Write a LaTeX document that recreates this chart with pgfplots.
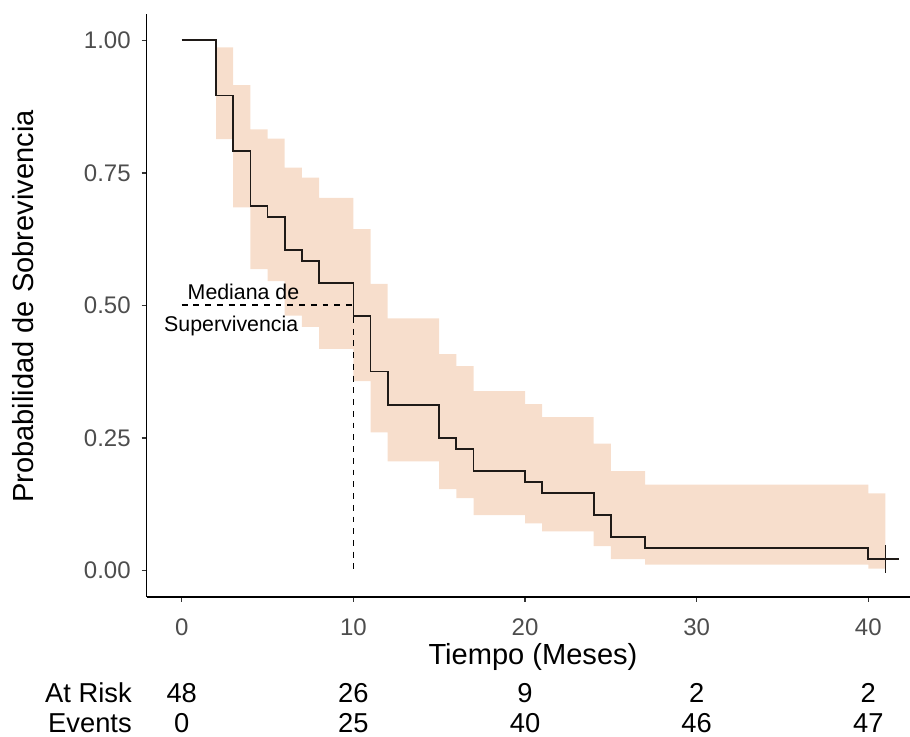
\documentclass[border=0pt]{standalone}
\usepackage{fontspec}
\setmainfont{Liberation Sans}
\usepackage{pgfplots}
\pgfplotsset{compat=1.18}

\definecolor{bandfill}{HTML}{F7DECC}
\definecolor{survline}{HTML}{1F1A17}
\definecolor{ticktext}{HTML}{4D4D4D}
\definecolor{tickmark}{HTML}{333333}

\newcommand{\tickfont}{\fontsize{18pt}{20pt}\selectfont}
\newcommand{\titlefont}{\fontsize{21.8pt}{24pt}\selectfont}
\newcommand{\riskfont}{\fontsize{20.5pt}{23pt}\selectfont}
\newcommand{\notefont}{\fontsize{16pt}{18pt}\selectfont}

\begin{document}
\begin{tikzpicture}
\useasboundingbox (0,0) rectangle (682.5pt,552pt);
\clip (0,0) rectangle (682.5pt,552pt);
\begin{axis}[
  scale only axis,
  width=580.6pt, height=437.25pt,
  at={(109.9pt,104.4pt)}, anchor=south west,
  xmin=-2.05, xmax=43.05, ymin=-0.05, ymax=1.05,
  axis x line*=bottom, axis y line*=left,
  axis line style={-, black, line width=1.1pt},
  xtick={0,10,20,30,40},
  ytick={0,0.25,0.5,0.75,1},
  tick align=outside,
  major tick length=3.75pt,
  tick style={color=tickmark, line width=1.1pt},
  /pgf/number format/assume math mode=true,
  tick label style={font=\tickfont, color=ticktext},
  xticklabel style={anchor=base, yshift=-25.5pt},
  yticklabel style={anchor=east, xshift=-4.6pt,
    /pgf/number format/fixed, /pgf/number format/fixed zerofill,
    /pgf/number format/precision=2},
  clip=false,
]
% 95% confidence band (log transform), step-wise
\addplot[fill=bandfill, draw=none] coordinates {
  (2,0.98656) (3,0.98656) (3,0.91532) (4,0.91532) (4,0.83196) (5,0.83196)
  (5,0.81429) (6,0.81429) (6,0.75963) (7,0.75963) (7,0.74089) (8,0.74089)
  (8,0.70266) (10,0.70266) (10,0.64355) (11,0.64355) (11,0.54032) (12,0.54032)
  (12,0.47543) (15,0.47543) (15,0.40808) (16,0.40808) (16,0.38502) (17,0.38502)
  (17,0.33788) (20,0.33788) (20,0.31375) (21,0.31375) (21,0.28920) (24,0.28920)
  (24,0.23880) (25,0.23880) (25,0.18696) (27,0.18696) (27,0.16182) (40,0.16182)
  (40,0.14492) (41,0.14492)
  (41,0.00300) (40,0.00300) (40,0.01073) (27,0.01073) (27,0.02089) (25,0.02089)
  (25,0.04544) (24,0.04544) (24,0.07354) (21,0.07354) (21,0.08854) (20,0.08854)
  (20,0.10405) (17,0.10405) (17,0.13640) (16,0.13640) (16,0.15316) (15,0.15316)
  (15,0.20541) (12,0.20541) (12,0.26027) (11,0.26027) (11,0.35677) (10,0.35677)
  (10,0.41755) (8,0.41755) (8,0.45928) (7,0.45928) (7,0.48052) (6,0.48052)
  (6,0.54582) (5,0.54582) (5,0.56812) (4,0.56812) (4,0.68472) (3,0.68472)
  (3,0.81345) (2,0.81345)
};
% median survival guides
\addplot[black, line width=1.2pt, dash pattern=on 4.4pt off 4.4pt] coordinates {(0,0.5) (10,0.5)};
\addplot[black, line width=1.2pt, dash pattern=on 4.4pt off 4.4pt] coordinates {(10,0.5) (10,0)};
% Kaplan-Meier estimate
\addplot[const plot, survline, line width=1.3pt] coordinates {
  (0,1) (2,0.895833) (3,0.791667) (4,0.6875) (5,0.666667) (6,0.604167)
  (7,0.583333) (8,0.541667) (10,0.479167) (11,0.375) (12,0.3125) (15,0.25)
  (16,0.229167) (17,0.1875) (20,0.166667) (21,0.145833) (24,0.104167)
  (25,0.0625) (27,0.041667) (40,0.020833) (41,0.020833)
};
% censored observation
\addplot[only marks, mark=+, mark size=10.5pt, survline, line width=1.3pt] coordinates {(41,0.020833)};
\end{axis}

\begin{scope}[shift={(0pt,552pt)}, x=0.75pt, y=-0.75pt]
  \node[rotate=90, anchor=base, font=\titlefont, inner sep=0pt] at (33.3,306.5) {Probabilidad de Sobrevivencia};
  \node[anchor=base, font=\titlefont, inner sep=0pt] at (533,664) {Tiempo (Meses)};
  \node[anchor=base east, font=\notefont, inner sep=0pt] at (299.5,300) {Mediana de};
  \node[anchor=base east, font=\notefont, inner sep=0pt] at (298.5,331.5) {Supervivencia};
  % number at risk / cumulative events
  \node[anchor=base east, font=\riskfont, inner sep=0pt] at (132,702) {At Risk};
  \node[anchor=base east, font=\riskfont, inner sep=0pt] at (132,732) {Events};
  \foreach \xx/\r/\e in {181.7/48/0, 353.35/26/25, 525/9/40, 696.65/2/46, 868.3/2/47} {
    \node[anchor=base, font=\riskfont, inner sep=0pt] at (\xx,702) {\r};
    \node[anchor=base, font=\riskfont, inner sep=0pt] at (\xx,732) {\e};
  }
\end{scope}
\end{tikzpicture}
\end{document}
